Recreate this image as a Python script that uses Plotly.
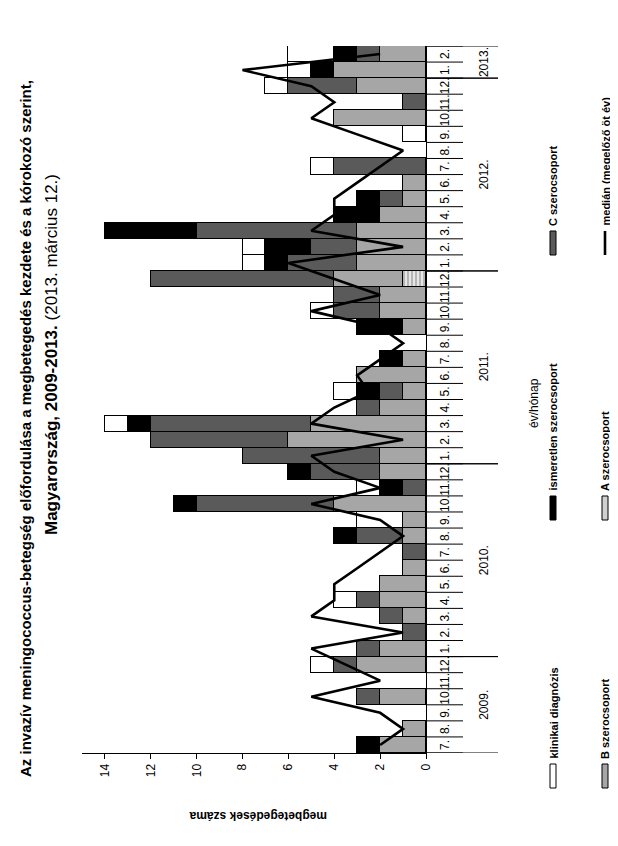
import plotly.graph_objects as go

# ---------------- data ----------------
years = [2009]*6 + [2010]*12 + [2011]*12 + [2012]*12 + [2013]*2
months = list(range(7, 13)) + list(range(1, 13))*3 + [1, 2]
month_labels = [f"{m}." for m in months]
year_labels = ["2009.", "2010.", "2011.", "2012.", "2013."]

sero_A = [0,0,0,0,0,0, 0,0,0,0,0,0,0,0,0,0,0,0, 0,0,0,0,0,0,0,0,0,0,0,1, 0,0,0,0,0,0,0,0,0,0,0,0, 0,0]
sero_B = [2,1,0,2,0,3, 2,0,1,2,2,1,0,1,1,4,0,2, 2,6,5,2,1,3,1,0,1,2,2,3, 3,3,3,2,1,1,0,0,0,4,0,3, 4,2]
sero_C = [0,0,0,1,0,1, 1,1,1,1,0,0,1,2,0,6,1,3, 6,6,7,1,1,0,0,0,0,2,2,8, 3,2,7,0,1,0,4,0,0,0,1,3, 0,1]
unknown = [1,0,0,0,0,0, 0,0,0,0,0,0,0,1,0,1,1,1, 0,0,1,0,1,0,1,0,2,0,0,0, 1,2,4,2,1,0,0,0,0,0,0,0, 1,1]
clinical = [0,0,0,0,0,1, 0,0,0,1,0,0,0,0,2,0,1,0, 0,0,1,0,1,0,0,0,0,1,0,0, 1,1,0,0,0,0,1,0,1,0,0,1, 1,2]
median5 = [2,1,2,5,2,3.5, 5,1,5,4,4,3,2,1,2,5,2,4, 5,1,5,4,2.5,3,2,1,2,5,2,4, 6,1,5,4,4,3,2,1,3,5,4,5, 8,2]

series_names = ["A szerocsoport", "B szerocsoport", "C szerocsoport",
                "ismeretlen szerocsoport", "klinikai diagnózis"]
median_name = "medián (megelőző öt év)"
title1 = "Az invazív meningococcus-betegség előfordulása a megbetegedés kezdete és a kórokozó szerint,"
title2 = "<b>Magyarország, 2009-2013.</b> (2013. március 12.)"
xtitle = "megbetegedések száma"
ytitle = "év/hónap"
value_ticks = [0, 2, 4, 6, 8, 10, 12, 14]

# ---------------- figure ----------------
FONT = "Liberation Sans, Arial, sans-serif"
W, H = 618, 846
L, R, T, B = 74, 200, 38, 101
PW, PH = W - L - R, H - T - B

idx = list(range(len(months)))

def nz(v):
    return [x if x else None for x in v]

colors = {"B": "#a6a6a6", "C": "#5a5a5a", "U": "#000000", "K": "#ffffff"}

fig = go.Figure()
fig.add_trace(go.Bar(y=idx, x=nz(sero_A), orientation="h", name=series_names[0],
                     marker=dict(color="#e6e6e6", line=dict(color="black", width=1),
                                 pattern=dict(shape="|", fgcolor="#7a7a7a", bgcolor="#e6e6e6",
                                              size=4, solidity=0.45))))
fig.add_trace(go.Bar(y=idx, x=nz(sero_B), orientation="h", name=series_names[1],
                     marker=dict(color=colors["B"], line=dict(color="black", width=1))))
fig.add_trace(go.Bar(y=idx, x=nz(sero_C), orientation="h", name=series_names[2],
                     marker=dict(color=colors["C"], line=dict(color="black", width=1))))
fig.add_trace(go.Bar(y=idx, x=nz(unknown), orientation="h", name=series_names[3],
                     marker=dict(color=colors["U"], line=dict(color="black", width=1))))
fig.add_trace(go.Bar(y=idx, x=nz(clinical), orientation="h", name=series_names[4],
                     marker=dict(color=colors["K"], line=dict(color="black", width=1))))
fig.add_trace(go.Scatter(y=idx, x=median5, mode="lines", name=median_name,
                         line=dict(color="black", width=2.6)))

def px_x(p):
    return (p - L) / PW

def px_y(p):
    return (H - B - p) / PH

ann = []
shapes = []
# month labels
for i, lab in zip(idx, month_labels):
    ann.append(dict(x=px_x(437), xref="paper", y=i, yref="y", text=lab, showarrow=False,
                    textangle=-90, xanchor="center", yanchor="middle",
                    font=dict(family=FONT, size=12, color="black")))
# category boundary ticks
for k in range(len(idx) + 1):
    shapes.append(dict(type="line", xref="paper", yref="y", x0=1, x1=px_x(455),
                       y0=k - 0.5, y1=k - 0.5, line=dict(color="black", width=1)))
# year separators and year labels
ys = sorted(set(years))
for yv, ylab in zip(ys, year_labels):
    members = [i for i in idx if years[i] == yv]
    lo, hi = members[0] - 0.5, members[-1] + 0.5
    for b in (lo, hi):
        shapes.append(dict(type="line", xref="paper", yref="y", x0=1, x1=px_x(490),
                           y0=b, y1=b, line=dict(color="black", width=1)))
    ann.append(dict(x=px_x(476), xref="paper", y=(lo + hi) / 2, yref="y", text=ylab,
                    showarrow=False, textangle=-90, xanchor="center", yanchor="middle",
                    font=dict(family=FONT, size=12, color="black")))

# titles
ann.append(dict(x=px_x(18), xref="paper", y=px_y(421), yref="paper", text="<b>" + title1 + "</b>",
                showarrow=False, textangle=-90, xanchor="center", yanchor="middle",
                font=dict(family=FONT, size=15, color="black")))
ann.append(dict(x=px_x(43), xref="paper", y=px_y(347), yref="paper", text=title2,
                showarrow=False, textangle=-90, xanchor="center", yanchor="middle",
                font=dict(family=FONT, size=17, color="black")))
ann.append(dict(x=px_x(250), xref="paper", y=px_y(808), yref="paper", text="<b>" + xtitle + "</b>",
                showarrow=False, textangle=180, xanchor="center", yanchor="middle",
                font=dict(family=FONT, size=12, color="black")))
ann.append(dict(x=px_x(526), xref="paper", y=px_y(395), yref="paper", text=ytitle,
                showarrow=False, textangle=-90, xanchor="center", yanchor="middle",
                font=dict(family=FONT, size=12, color="black")))

# legend (manual, rotated)
leg = [
    (series_names[4], 545, 768, "box", colors["K"]),
    (series_names[3], 545, 500, "box", colors["U"]),
    (series_names[2], 545, 235, "box", colors["C"]),
    (series_names[1], 597, 768, "box", colors["B"]),
    (series_names[0], 597, 500, "pat", "#d0d0d0"),
    (median_name, 597, 235, "line", "black"),
]
for name, cx, by, kind, col in leg:
    if kind == "line":
        shapes.append(dict(type="line", xref="paper", yref="paper", x0=px_x(cx), x1=px_x(cx),
                           y0=px_y(by + 12), y1=px_y(by - 12), line=dict(color="black", width=2.6)))
    else:
        shapes.append(dict(type="rect", xref="paper", yref="paper", x0=px_x(cx - 3), x1=px_x(cx + 3),
                           y0=px_y(by + 12), y1=px_y(by - 12), fillcolor=col,
                           line=dict(color="black", width=1)))
    ann.append(dict(x=px_x(cx), xref="paper", y=px_y(by - 15), yref="paper", text="<b>" + name + "</b>",
                    showarrow=False, textangle=-90, xanchor="center", yanchor="bottom",
                    font=dict(family=FONT, size=11, color="black")))

fig.update_layout(
    width=W, height=H, margin=dict(l=L, r=R, t=T, b=B, pad=0),
    barmode="stack", bargap=0, showlegend=False,
    paper_bgcolor="white", plot_bgcolor="white",
    annotations=ann, shapes=shapes,
    xaxis=dict(range=[15, 0], tickmode="array", tickvals=value_ticks,
               ticktext=[str(v) for v in value_ticks], tickangle=-90,
               ticks="outside", ticklen=5, tickcolor="black", showline=True,
               linecolor="black", linewidth=1, showgrid=False, zeroline=False,
               tickfont=dict(family=FONT, size=12, color="black")),
    yaxis=dict(range=[-0.5, len(idx) - 0.5], showticklabels=False, ticks="",
               showline=True, side="right", linecolor="black", linewidth=1,
               showgrid=False, zeroline=False),
)

fig.write_html("out.html")
